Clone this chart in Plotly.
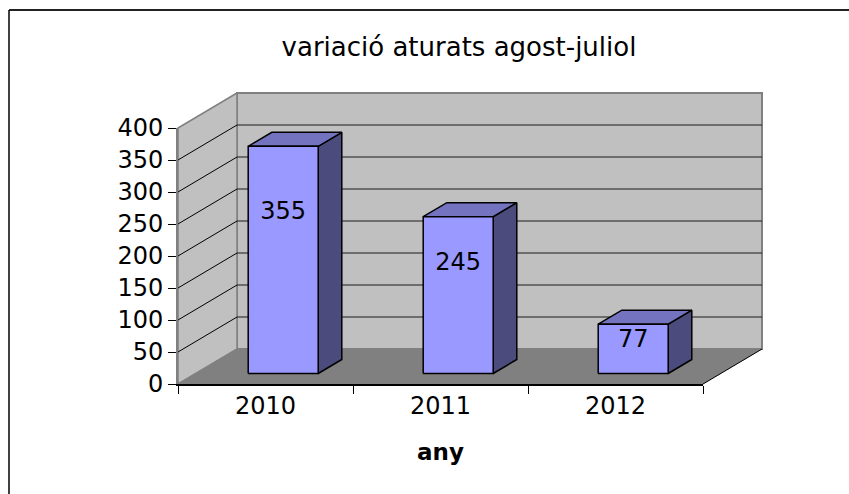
import plotly.graph_objects as go

# ---- data ----
categories = ["2010", "2011", "2012"]
values = [355, 245, 77]
y_ticks = [0, 50, 100, 150, 200, 250, 300, 350, 400]
title_text = "variació aturats agost-juliol"
x_title = "any"

# ---- geometry (oblique 3D projection in data units) ----
W, H = 849, 494
PX0, PY0 = 178.0, 384.0        # front-left-bottom corner in pixels
PX_PER_CAT = 175.0
PX_PER_VAL = 0.64
DX = 59.0 / PX_PER_CAT         # depth offset, category units
DY = 35.0 / PX_PER_VAL         # depth offset, value units
YMAX = 400
NC = len(categories)
BAR_HALF = 0.2
D_FRONT, D_BACK = 0.3, 0.7

FONT = "DejaVu Sans"


def P(cx, v, d):
    return cx + d * DX, v + d * DY


def poly(points):
    xs = [p[0] for p in points] + [points[0][0]]
    ys = [p[1] for p in points] + [points[0][1]]
    return xs, ys


fig = go.Figure()


def add_poly(points, fill, line_color, line_width):
    xs, ys = poly(points)
    fig.add_trace(go.Scatter(x=xs, y=ys, mode="lines", fill="toself",
                             fillcolor=fill,
                             line=dict(color=line_color, width=line_width),
                             hoverinfo="skip", showlegend=False,
                             xaxis="x", yaxis="y"))


def add_lines(segments, color, width):
    xs, ys = [], []
    for a, b in segments:
        xs += [a[0], b[0], None]
        ys += [a[1], b[1], None]
    fig.add_trace(go.Scatter(x=xs, y=ys, mode="lines",
                             line=dict(color=color, width=width),
                             hoverinfo="skip", showlegend=False,
                             xaxis="x", yaxis="y"))


# back wall
add_poly([P(0, 0, 1), P(NC, 0, 1), P(NC, YMAX, 1), P(0, YMAX, 1)],
         "#C0C0C0", "#808080", 2)
# side wall
add_poly([P(0, 0, 0), P(0, YMAX, 0), P(0, YMAX, 1), P(0, 0, 1)],
         "#C0C0C0", "#808080", 1.5)
# floor
add_poly([P(0, 0, 0), P(NC, 0, 0), P(NC, 0, 1), P(0, 0, 1)],
         "#808080", "#808080", 0.5)
add_lines([(P(NC, 0, 0), P(NC, 0, 1))], "#000000", 1)

# gridlines
grid_vals = [t for t in y_ticks if 0 < t < YMAX]
add_lines([(P(0, v, 1), P(NC, v, 1)) for v in grid_vals], "#1a1a1a", 1)
add_lines([(P(0, v, 0), P(0, v, 1)) for v in grid_vals], "#000000", 1)

# bars
for i, v in enumerate(values):
    c = i + 0.5
    l, r = c - BAR_HALF, c + BAR_HALF
    add_poly([P(r, 0, D_FRONT), P(r, v, D_FRONT), P(r, v, D_BACK), P(r, 0, D_BACK)],
             "#4B4B7D", "#000000", 1.5)
    add_poly([P(l, v, D_FRONT), P(r, v, D_FRONT), P(r, v, D_BACK), P(l, v, D_BACK)],
             "#7373BF", "#000000", 1.5)
    add_poly([P(l, 0, D_FRONT), P(r, 0, D_FRONT), P(r, v, D_FRONT), P(l, v, D_FRONT)],
             "#9999FF", "#000000", 1.5)

# data labels
lx = [i + 0.5 + D_FRONT * DX for i in range(NC)]
ly = [D_FRONT * DY + 0.72 * v - 5 for v in values]
fig.add_trace(go.Scatter(x=lx, y=ly, mode="text", text=[str(v) for v in values],
                         textposition="middle center",
                         textfont=dict(family=FONT, size=24, color="#000000"),
                         hoverinfo="skip", showlegend=False,
                         xaxis="x", yaxis="y"))

# invisible trace for the category / value axes
fig.add_trace(go.Scatter(x=categories, y=[0] * NC, mode="markers",
                         marker=dict(opacity=0), hoverinfo="skip",
                         showlegend=False, xaxis="x2", yaxis="y2"))

x_lo = (0 - PX0) / PX_PER_CAT
x_hi = (W - PX0) / PX_PER_CAT
y_lo = (PY0 - H) / PX_PER_VAL
y_hi = PY0 / PX_PER_VAL

front_right_px = PX0 + NC * PX_PER_CAT
top_py = PY0 - YMAX * PX_PER_VAL

fig.update_layout(
    width=W, height=H, autosize=False,
    margin=dict(l=0, r=0, t=0, b=0, pad=0, autoexpand=False),
    showlegend=False,
    paper_bgcolor="white", plot_bgcolor="rgba(0,0,0,0)",
    title=dict(text=title_text, x=459 / W, y=1 - 47 / H,
               xanchor="center", yanchor="middle", automargin=False,
               font=dict(family=FONT, size=26, color="#000000")),
    xaxis=dict(domain=[0, 1], range=[x_lo, x_hi], visible=False,
               fixedrange=True, automargin=False),
    yaxis=dict(domain=[0, 1], range=[y_lo, y_hi], visible=False,
               fixedrange=True, automargin=False),
    xaxis2=dict(domain=[PX0 / W, front_right_px / W], anchor="y2",
                type="category", categoryorder="array", categoryarray=categories,
                range=[-0.5, NC - 0.5], tickson="boundaries", automargin=False,
                ticks="outside", ticklen=8, tickcolor="#000000", tickwidth=1,
                showline=True, linecolor="#000000", linewidth=1.5,
                showgrid=False, zeroline=False, fixedrange=True,
                tickfont=dict(family=FONT, size=24, color="#000000"),
                title=dict(text="<b>" + x_title + "</b>", standoff=24,
                           font=dict(family=FONT, size=23, color="#000000"))),
    yaxis2=dict(domain=[1 - PY0 / H, 1 - top_py / H], anchor="x2",
                range=[0, YMAX], tickmode="array", tickvals=y_ticks,
                ticktext=[str(t) for t in y_ticks], automargin=False,
                ticks="outside", ticklen=8, tickcolor="#000000", tickwidth=1,
                showline=True, linecolor="#808080", linewidth=2,
                showgrid=False, zeroline=False, fixedrange=True,
                tickfont=dict(family=FONT, size=24, color="#000000")),
    shapes=[
        dict(type="line", xref="paper", yref="paper",
             x0=9 / W, x1=1, y0=1 - 10 / H, y1=1 - 10 / H,
             line=dict(color="#222222", width=2)),
        dict(type="line", xref="paper", yref="paper",
             x0=9 / W, x1=9 / W, y0=0, y1=1 - 10 / H,
             line=dict(color="#000000", width=1.5)),
    ],
)

# pin the graph to the window's top-left corner so the page does not overflow
pin_js = (
    "document.body.style.margin='0';"
    "document.body.style.overflow='hidden';"
    "var gd=document.getElementById('{plot_id}');"
    "gd.style.position='fixed';gd.style.left='0px';gd.style.top='0px';"
)

fig.write_html("out.html", post_script=pin_js,
               config={"displayModeBar": False, "staticPlot": True})
